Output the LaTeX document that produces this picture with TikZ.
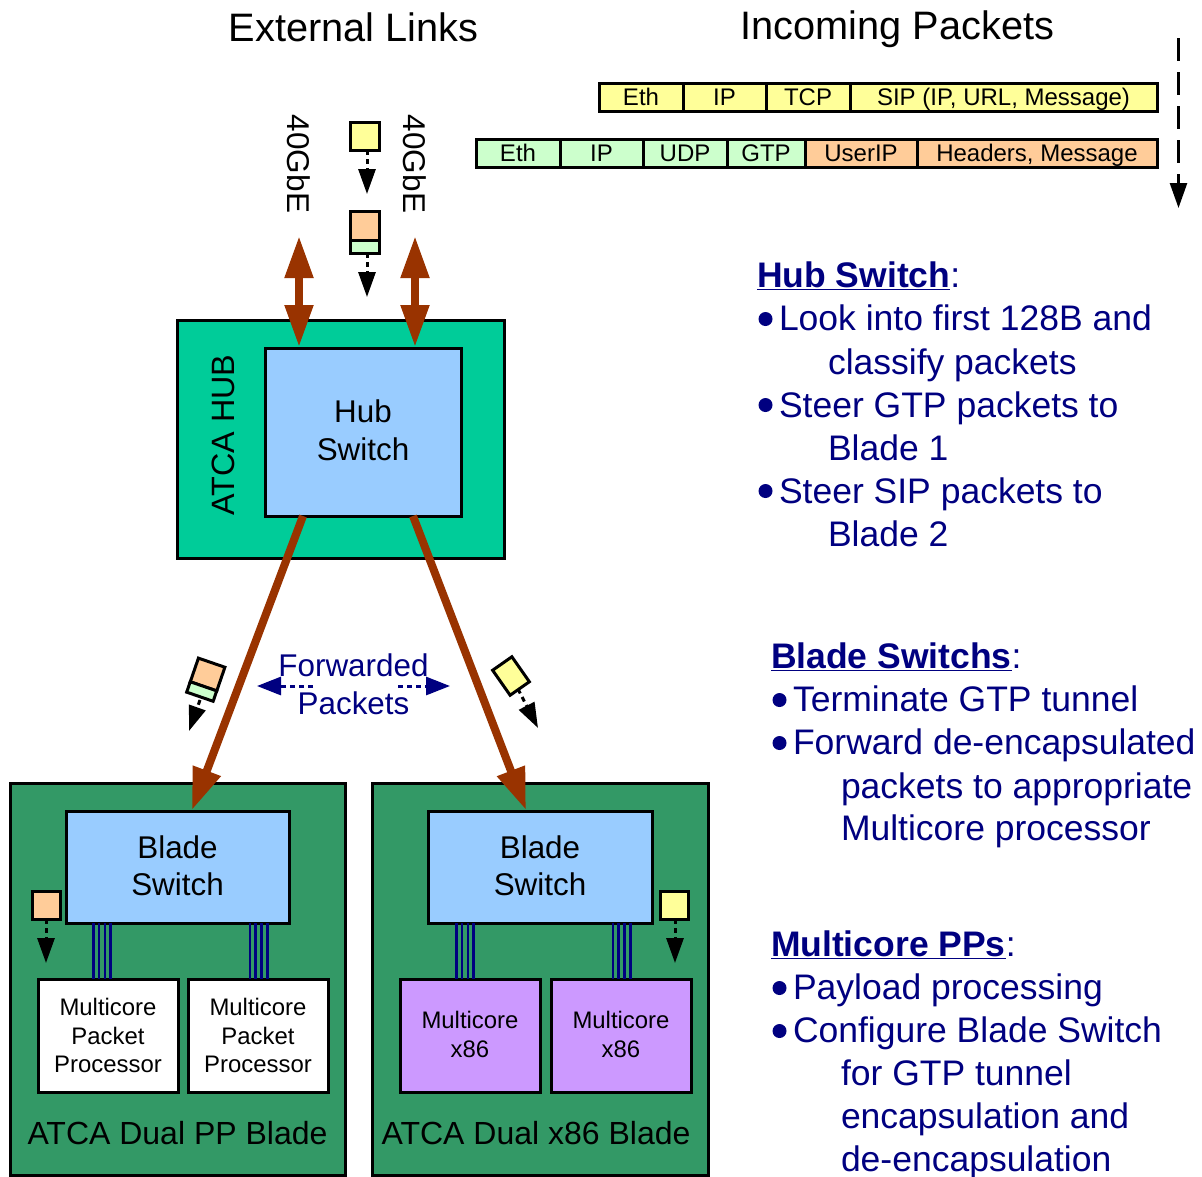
\documentclass[tikz,border=0pt]{standalone}
\usepackage{fontspec}
\setmainfont{Liberation Sans}
\usetikzlibrary{arrows.meta}
\definecolor{hubgreen}{HTML}{00CC99}
\definecolor{bladegreen}{HTML}{339966}
\definecolor{ltblue}{HTML}{99CCFF}
\definecolor{pyellow}{HTML}{FFFF99}
\definecolor{pgreen}{HTML}{CCFFCC}
\definecolor{porange}{HTML}{FFCC99}
\definecolor{ppurple}{HTML}{CC99FF}
\definecolor{brown}{HTML}{993300}
\definecolor{navy}{HTML}{000080}
\newcommand\fsz[2]{\fontsize{#1}{#2}\selectfont}
\newcommand\lift[1]{\rule[-#1pt]{0pt}{0pt}}
% name, x1, y1, x2, y2, style, text
\newcommand\bx[7]{\node[boxed,#6,minimum width={(#4-#2)*1pt},minimum height={(#5-#3)*1pt}] (#1) at ({(#2+#4)/2},{(#3+#5)/2}) {#7};}
\newcommand\bul[2]{\node[bulletdot] at (#1,#2) {};}
\tikzset{
  boxed/.style={draw=black,line width=3pt,inner sep=0pt,outer sep=0pt,align=center},
  cell/.style={font=\fsz{24}{27},text height=18pt,text depth=2pt},
  cellA/.style={cell,fill=pyellow},
  cellB/.style={cell,fill=pgreen},
  cellC/.style={cell,fill=porange},
  switchbox/.style={fill=ltblue,font=\fsz{31.4}{37.5}},
  procbox/.style={font=\fsz{23.9}{28.7}},
  chipbox/.style={boxed,inner sep=0pt},
  plain/.style={inner sep=0pt,outer sep=0pt,align=center},
  dbl/.style={draw=brown,fill=brown,line width=8pt,{Triangle[length=42pt,width=27pt]}-{Triangle[length=42pt,width=27pt]}},
  big/.style={draw=brown,line width=8pt,-{Triangle[length=42pt,width=28pt]}},
  flow/.style={draw=black,line width=3pt,dash pattern=on 5pt off 4pt,-{Triangle[length=25pt,width=17pt]}},
  navyflow/.style={draw=navy,line width=3pt,dash pattern=on 5pt off 4pt,-{Triangle[length=24pt,width=18pt]}},
  bus/.style={draw=navy,line width=2.6pt},
  rt/.style={anchor=base west,inner sep=0pt,outer sep=0pt,text=navy,font=\fsz{35.5}{40}},
  bulletdot/.style={circle,fill=navy,inner sep=0pt,minimum size=14pt},
}
\begin{document}
\begin{tikzpicture}[x=1pt,y=-1pt]
\useasboundingbox (0,0) rectangle (1202,1176);

% titles
\node[plain,font=\fsz{39.7}{44}] (tExt) at (353.5,27) {External Links};
\node[plain,font=\fsz{39.7}{44}] (tInc) at (897.5,29) {Incoming Packets};

% packet rows
\bx{a1}{599}{83}{683}{111}{cellA}{Eth}
\bx{a2}{683}{83}{766}{111}{cellA}{IP}
\bx{a3}{766}{83}{850}{111}{cellA}{TCP}
\bx{a4}{850}{83}{1157}{111}{cellA}{SIP (IP, URL, Message)}
\bx{b1}{476}{139}{560}{167}{cellB}{Eth}
\bx{b2}{560}{139}{643}{167}{cellB}{IP}
\bx{b3}{643}{139}{727}{167}{cellB}{UDP}
\bx{b4}{727}{139}{805}{167}{cellB}{GTP}
\bx{b5}{805}{139}{917}{167}{cellC}{UserIP}
\bx{b6}{917}{139}{1157}{167}{cellC}{Headers, Message}

\coordinate (incS) at (1178.5,38);
\coordinate (incE) at (1178.5,208);
\draw[draw=black,line width=2.5pt,dash pattern=on 23pt off 11pt,-{Triangle[length=25pt,width=17pt]}] (incS) -- (incE);

% hub
\bx{hub}{177}{320}{504}{558}{fill=hubgreen}{}
\bx{hubsw}{265}{348}{461}{516}{switchbox}{Hub\\Switch\lift{4}}
\node[plain,rotate=90,font=\fsz{32.3}{36}] (hubl) at (223,435) {ATCA HUB};

% external links
\node[plain,rotate=-90,font=\fsz{31.5}{36}] (gl) at (299,164) {40GbE};
\node[plain,rotate=-90,font=\fsz{31.5}{36}] (gr) at (415,164) {40GbE};
\coordinate (glT) at (299,236);
\coordinate (glB) at (299,347);
\coordinate (grT) at (415,236);
\coordinate (grB) at (415,347);
\draw[dbl] (glT) -- (glB);
\draw[dbl] (grT) -- (grB);

% chips at the top
\bx{c1}{350}{122}{379}{150}{fill=pyellow}{}
\coordinate (c1e) at (367,194);
\draw[flow] (367,150) -- (c1e);
\bx{c2}{350}{211}{379}{240}{fill=porange}{}
\bx{c3}{350}{240}{379}{253}{fill=pgreen}{}
\coordinate (c3e) at (367,297);
\draw[flow] (367,253) -- (c3e);

% blades
\bx{bl}{10}{783}{345}{1175.5}{fill=bladegreen}{}
\bx{br}{372}{783}{708}{1175.5}{fill=bladegreen}{}
\bx{swl}{66}{811}{289}{923}{switchbox}{Blade\\Switch\lift{3}}
\bx{swr}{428}{811}{652}{923}{switchbox}{Blade\\Switch\lift{3}}

\bx{p1}{38}{979}{178}{1092}{procbox,fill=white}{Multicore\\Packet\\Processor}
\bx{p2}{188}{979}{328}{1092}{procbox,fill=white}{Multicore\\Packet\\Processor}
\bx{x1}{400}{979}{540}{1092}{procbox,fill=ppurple}{Multicore\\x86\lift{2}}
\bx{x2}{551}{979}{691}{1092}{procbox,fill=ppurple}{Multicore\\x86\lift{2}}

\foreach \s/\t/\cx in {swl/p1/102,swl/p2/258.5,swr/x1/465,swr/x2/621.5}{
  \foreach \d in {-8.7,-2.9,2.9,8.7}{
    \draw[bus] ({\cx+\d},923) -- ({\cx+\d},979);
  }
}

\node[plain,font=\fsz{32}{36}] (bll) at (177.5,1133) {ATCA Dual PP Blade};
\node[plain,font=\fsz{32}{36}] (brl) at (536,1133) {ATCA Dual x86 Blade};

% chips in the blades
\bx{c4}{32}{891}{60}{919}{fill=porange}{}
\coordinate (c4e) at (46,963);
\draw[flow] (46,919) -- (c4e);
\bx{c5}{660}{891}{688}{919}{fill=pyellow}{}
\coordinate (c5e) at (675,963);
\draw[flow] (675,919) -- (c5e);

% big links
\coordinate (hl) at (303,516);
\coordinate (hr) at (413,516);
\coordinate (bla) at (192,810);
\coordinate (bra) at (526,810);
\draw[big] (hl) -- (bla);
\draw[big] (hr) -- (bra);

% rotated chips
\node[chipbox,fill=porange,rotate=-19,minimum width=28pt,minimum height=25pt] (c6) at (207.6,674.5) {};
\node[chipbox,fill=pgreen,rotate=-19,minimum width=28pt,minimum height=11pt] (c7) at (201.7,691.5) {};
\coordinate (c7s) at (200,700);
\coordinate (c7e) at (189,731);
\draw[flow] (c7s) -- (c7e);
\node[chipbox,fill=pyellow,rotate=35,minimum width=23.5pt,minimum height=30.5pt] (c8) at (511,676) {};
\coordinate (c8s) at (518,689);
\coordinate (c8e) at (538,728);
\draw[flow] (c8s) -- (c8e);

% forwarded packets
\node[plain,text=navy,font=\fsz{31.4}{36}] (fw1) at (353.5,665) {Forwarded};
\node[plain,text=navy,font=\fsz{31.4}{36}] (fw2) at (353.5,703) {Packets};
\coordinate (fa) at (313,686);
\coordinate (fb) at (257,686);
\coordinate (fc) at (398,686);
\coordinate (fd) at (450,686);
\draw[navyflow] (fa) -- (fb);
\draw[navyflow] (fc) -- (fd);

% right-hand text
\node[rt] (h1) at (757,287) {\textbf{\underline{Hub Switch}}:};
\bul{765.5}{319}
\node[rt] at (779,330) {Look into first 128B and};
\node[rt] at (828,374) {classify packets};
\bul{765.5}{405}
\node[rt] at (779,417) {Steer GTP packets to};
\node[rt] at (828,460) {Blade 1};
\bul{765.5}{491}
\node[rt] at (779,503) {Steer SIP packets to};
\node[rt] at (828,546) {Blade 2};

\node[rt] (h2) at (771,668) {\textbf{\underline{Blade Switchs}}:};
\bul{779.5}{700}
\node[rt] at (793,711) {Terminate GTP tunnel};
\bul{779.5}{743}
\node[rt] at (793,754) {Forward de-encapsulated};
\node[rt] at (841,798) {packets to appropriate};
\node[rt] at (841,840) {Multicore processor};

\node[rt] (h3) at (771,956) {\textbf{\underline{Multicore PPs}}:};
\bul{779.5}{988}
\node[rt] at (793,999) {Payload processing};
\bul{779.5}{1031}
\node[rt] at (793,1042) {Configure Blade Switch};
\node[rt] at (841,1085) {for GTP tunnel};
\node[rt] at (841,1128) {encapsulation and};
\node[rt] at (841,1171) {de-encapsulation};
\end{tikzpicture}
\end{document}
